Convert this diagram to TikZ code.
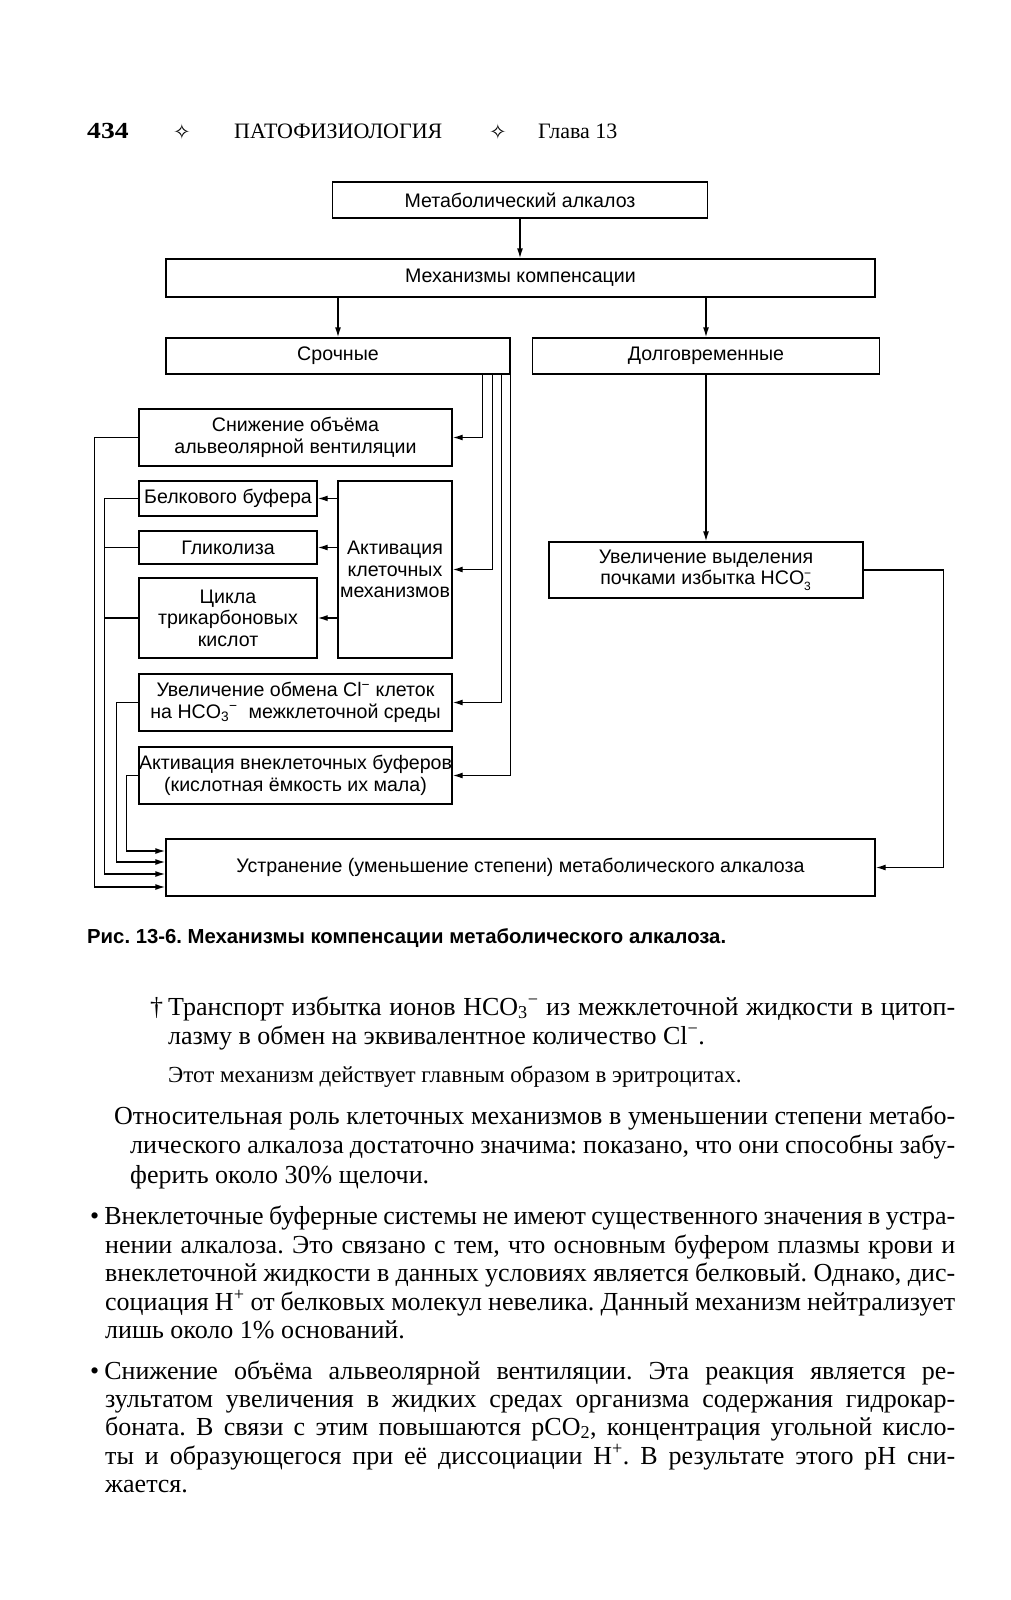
\documentclass[tikz,border=0pt]{standalone}
\usepackage{fontspec}
\setmainfont{Liberation Serif}
\setsansfont{Liberation Sans}
\newfontfamily\symfont{DejaVu Sans}
\newfontfamily\pnumfont{Liberation Serif}[FakeStretch=1.2]
\usetikzlibrary{arrows.meta,positioning}
\frenchspacing

\newcommand{\diatxt}{\fontsize{19.6}{21.5}\selectfont\sffamily}
\newcommand{\bodytxt}{\fontsize{26}{29}\selectfont\rmfamily}
\newcommand{\smalltxt}{\fontsize{23}{26}\selectfont\rmfamily}
\newcommand{\headtxt}{\fontsize{22}{26}\selectfont\rmfamily}
\newcommand{\captxt}{\fontsize{20.3}{23}\selectfont\sffamily\bfseries}
\newcommand{\jline}[2]{\makebox[#1][s]{#2}}
\newcommand{\ion}[2]{$_{\hbox{\fontsize{12}{12}\selectfont #1}}^{\hbox{\fontsize{12}{12}\selectfont #2}}$}

\begin{document}
\begin{tikzpicture}[x=1pt,y=-1pt]
        \tikzstyle{box}=[rectangle, draw=black, line width=1.4pt, align=center, inner sep=0pt, font=\diatxt]
        \tikzstyle{arr}=[line width=1.4pt, -{Latex[length=10pt,width=6pt]}]
        \tikzstyle{wire}=[line width=1.4pt]
        \tikzstyle{txt}=[anchor=base west, inner sep=0pt, font=\bodytxt]
        \useasboundingbox[fill=white] (0,0) rectangle (1010,1600);

        \node [anchor=base west, inner sep=0pt, font=\fontsize{23}{26}\selectfont\pnumfont\bfseries] (pnum) at (87,139) {434};
        \node [inner sep=0pt, font=\fontsize{21}{22}\selectfont\symfont] (d1) at (182,132) {✧};
        \node [anchor=base west, inner sep=0pt, font=\headtxt] (book) at (234,139) {ПАТОФИЗИОЛОГИЯ};
        \node [inner sep=0pt, font=\fontsize{21}{22}\selectfont\symfont] (d2) at (498,132) {✧};
        \node [anchor=base west, inner sep=0pt, font=\headtxt] (chap) at (538,139) {Глава 13};

        \begin{scope}
          \node [box, minimum width=375pt, minimum height=36pt] (metab) at (520,200) {Метаболический алкалоз};
          \node [box, minimum width=709pt, minimum height=38pt] (mech) at (520.5,278) {Механизмы компенсации};
          \node [box, minimum width=344pt, minimum height=36pt] (urgent) at (338,356) {Срочные};
          \node [box, minimum width=347pt, minimum height=36pt] (longterm) at (706,356) {Долговременные};
          \node [box, minimum width=313pt, minimum height=57pt] (vent) at (295.5,437.5) {Снижение объёма\\альвеолярной вентиляции};
          \node [box, minimum width=178pt, minimum height=35pt] (prot) at (228,498.5) {Белкового буфера};
          \node [box, minimum width=178pt, minimum height=33pt] (glyc) at (228,547.5) {Гликолиза};
          \node [box, minimum width=178pt, minimum height=80pt] (krebs) at (228,618) {Цикла\\трикарбоновых\\кислот};
          \node [box, minimum width=114pt, minimum height=177pt] (cell) at (395,569.5) {Активация\\клеточных\\механизмов};
          \node [box, minimum width=313pt, minimum height=57pt] (clx) at (295.5,702.5) {Увеличение обмена Cl\textsuperscript{−} клеток\\на HCO\textsubscript{3}\textsuperscript{−}\ \ межклеточной среды};
          \node [box, minimum width=313pt, minimum height=57pt] (extra) at (295.5,775.5) {Активация внеклеточных буферов\\(кислотная ёмкость их мала)};
          \node [box, minimum width=314pt, minimum height=56pt] (kidney) at (706,570) {Увеличение выделения\\почками избытка HCO\ion{3}{−}};
          \node [box, minimum width=709pt, minimum height=57pt] (elim) at (520.5,867.5) {Устранение (уменьшение степени) метаболического алкалоза};
        \end{scope}

        \draw [arr] (metab.south) -- (metab.south |- mech.north);
        \draw [arr] (urgent |- mech.south) -- (urgent);
        \draw [arr] (longterm |- mech.south) -- (longterm);
        \draw [arr] (longterm) -- (kidney);
        \draw [arr] (kidney.east) -- ++(79.5,0) |- (elim.east);

        \draw [arr] ([xshift=-28pt]urgent.south east) |- (vent.east);
        \draw [arr] ([xshift=-18pt]urgent.south east) |- (cell.east);
        \draw [arr] ([xshift=-9pt]urgent.south east) |- (clx.east);
        \draw [arr] (urgent.south east) |- (extra.east);

        \draw [arr] (cell.west |- prot) -- (prot.east);
        \draw [arr] (cell.west |- glyc) -- (glyc.east);
        \draw [arr] (cell.west |- krebs) -- (krebs.east);

        \draw [arr] (vent.west) -- ++(-44,0) |- ([yshift=-19.5pt]elim.west);
        \draw [arr] (prot.west) -- ++(-34,0) |- ([yshift=-6.5pt]elim.west);
        \draw [wire] (glyc.west) -- ++(-34,0);
        \draw [wire] (krebs.west) -- ++(-34,0);
        \draw [arr] (clx.west) -- ++(-22,0) |- ([yshift=5.5pt]elim.west);
        \draw [arr] (extra.west) -- ++(-12,0) |- ([yshift=16.5pt]elim.west);

        \node [anchor=base west, inner sep=0pt, font=\captxt] (caption) at (87,943) {Рис. 13-6. Механизмы компенсации метаболического алкалоза.};

        \node [txt] (l1) at (150,1015) {\jline{805pt}{†\kern5pt Транспорт избытка ионов HCO\textsubscript{3}\textsuperscript{−} из межклеточной жидкости в цитоп-}};
        \node [txt] (l2) at (168,1044) {лазму в обмен на эквивалентное количество Cl\textsuperscript{−}.};
        \node [txt, font=\smalltxt] (l3) at (168,1082) {Этот механизм действует главным образом в эритроцитах.};
        \node [txt] (l4) at (114,1124) {\jline{841pt}{Относительная роль клеточных механизмов в уменьшении степени метабо-}};
        \node [txt] (l5) at (130,1153) {\jline{825pt}{лического алкалоза достаточно значима: показано, что они способны забу-}};
        \node [txt] (l6) at (130,1183) {ферить около 30\% щелочи.};
        \node [txt] (l7) at (90,1224) {\jline{865pt}{•\kern5pt Внеклеточные буферные системы не имеют существенного значения в устра-}};
        \node [txt] (l8) at (105,1253) {\jline{850pt}{нении алкалоза. Это связано с тем, что основным буфером плазмы крови и}};
        \node [txt] (l9) at (105,1281) {\jline{850pt}{внеклеточной жидкости в данных условиях является белковый. Однако, дис-}};
        \node [txt] (l10) at (105,1310) {\jline{850pt}{социация H\textsuperscript{+} от белковых молекул невелика. Данный механизм нейтрализует}};
        \node [txt] (l11) at (105,1338) {лишь около 1\% оснований.};
        \node [txt] (l12) at (90,1379) {\jline{865pt}{•\kern5pt Снижение объёма альвеолярной вентиляции. Эта реакция является ре-}};
        \node [txt] (l13) at (105,1407) {\jline{850pt}{зультатом увеличения в жидких средах организма содержания гидрокар-}};
        \node [txt] (l14) at (105,1435) {\jline{850pt}{боната. В связи с этим повышаются pCO\textsubscript{2}, концентрация угольной кисло-}};
        \node [txt] (l15) at (105,1464) {\jline{850pt}{ты и образующегося при её диссоциации H\textsuperscript{+}. В результате этого pH сни-}};
        \node [txt] (l16) at (105,1492) {жается.};
      \end{tikzpicture}
\end{document}
